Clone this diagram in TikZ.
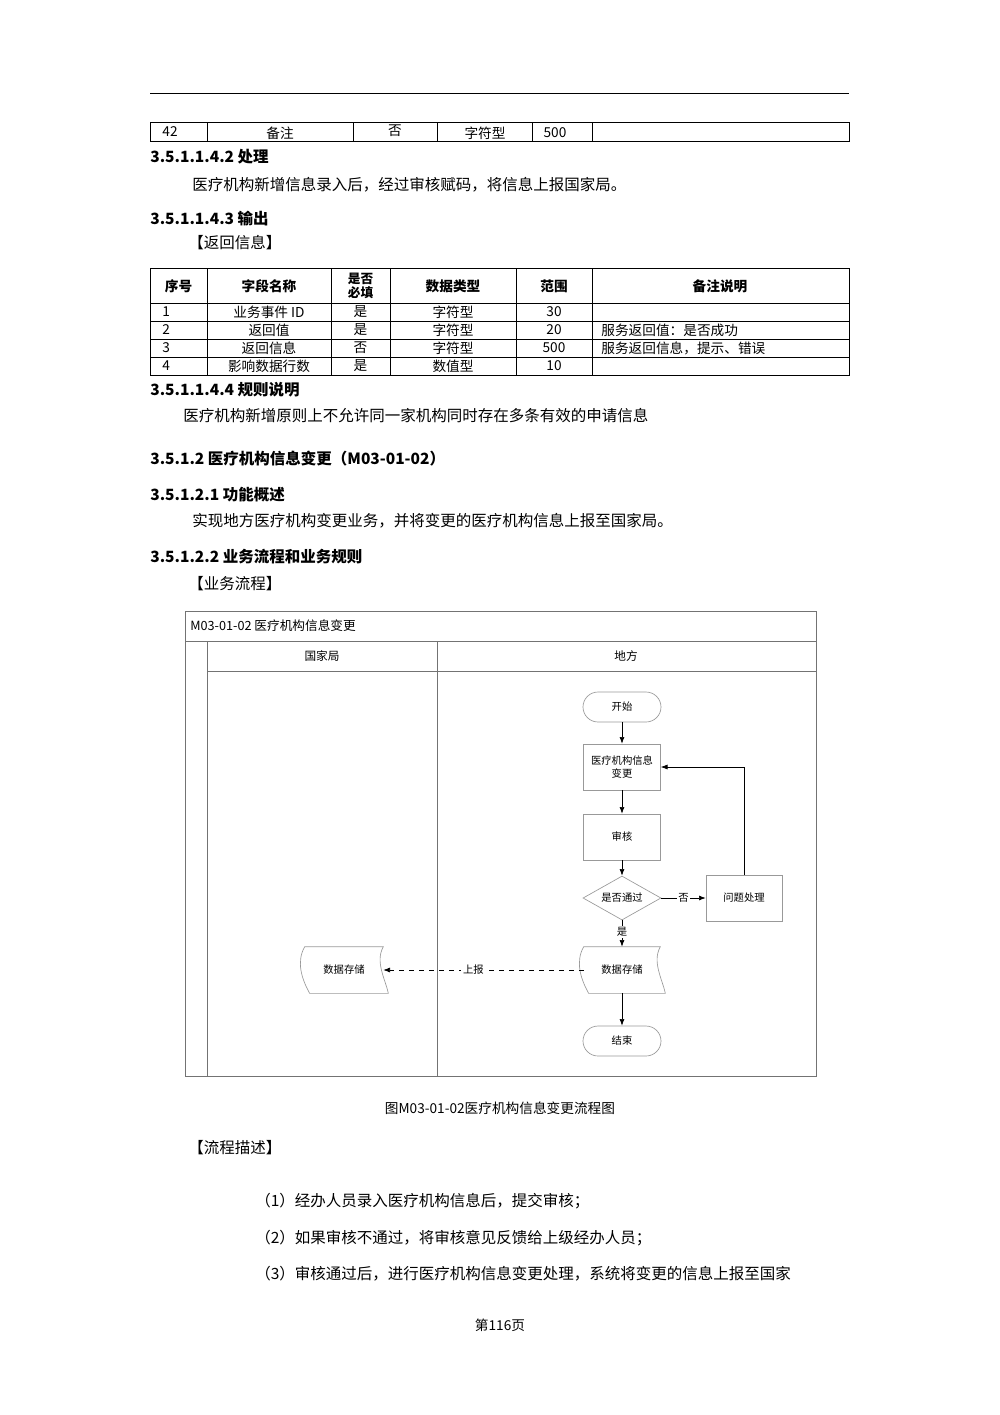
\documentclass[tikz,border=0pt]{standalone}
\usepackage{fontspec}
\setmainfont{Noto Sans CJK SC}
\usetikzlibrary{arrows.meta,shapes.geometric}
\begin{document}
\begin{tikzpicture}[x=0.6pt,y=-0.6pt,
  txt/.style={anchor=west,inner sep=0,font=\fontsize{9.3}{11}\selectfont},
  hd/.style={anchor=west,inner sep=0,font=\fontsize{9.3}{11}\selectfont\bfseries},
  cell/.style={inner sep=0,font=\fontsize{8.2}{9}\selectfont},
  cellb/.style={inner sep=0,font=\fontsize{8.2}{9}\selectfont\bfseries,align=center},
  fc/.style={inner sep=0,font=\fontsize{6.2}{8}\selectfont,align=center},
  box/.style={draw=gray!80,minimum width=46.2pt,minimum height=27.6pt,fc},
  term/.style={draw=gray!80,rounded corners=9pt,minimum width=46.8pt,minimum height=18pt,fc},
  arr/.style={-{Latex[length=4pt,width=3pt]},black},
  thin/.style={line width=0.5pt}]
\useasboundingbox (0,0) rectangle (1000,1415);
\draw[thin] (150,93) -- (849,93);
% top table row
\draw[thin] (150,122) rectangle (849,141);
\foreach \x in {207,353,437,532,592} \draw[thin] (\x,122) -- (\x,141);
\node[cell] (t1) at (170,132) {42};
\node[cell] (t2) at (280,133) {备注};
\node[cell] (t3) at (395,131) {否};
\node[cell] (t4) at (485,133) {字符型};
\node[cell] (t5) at (555,133) {500};
\node[hd] (h1) at (150,157) {3.5.1.1.4.2 处理};
\node[txt] (p1) at (192,185) {医疗机构新增信息录入后，经过审核赋码，将信息上报国家局。};
\node[hd] (h2) at (150,219) {3.5.1.1.4.3 输出};
\node[txt] (p2) at (188,243) {【返回信息】};
% table 2
\draw[thin] (150,268) rectangle (849,375);
\foreach \y in {303,321,339,357} \draw[thin] (150,\y) -- (849,\y);
\foreach \x in {207,331,390,516,592} \draw[thin] (\x,268) -- (\x,375);
\node[cellb] at (178.5,286) {序号};
\node[cellb] at (269,286) {字段名称};
\node[cellb,font=\fontsize{7.6}{8.5}\selectfont\bfseries] at (360.5,286) {是否\\必填};
\node[cellb] at (453,286) {数据类型};
\node[cellb] at (554,286) {范围};
\node[cellb] at (720,286) {备注说明};
\foreach \y/\a/\b/\c/\d/\e/\f in {312/1/业务事件 ID/是/字符型/30/,330/2/返回值/是/字符型/20/服务返回值：是否成功,348/3/返回信息/否/字符型/500/服务返回信息，提示、错误,366/4/影响数据行数/是/数值型/10/}{
  \node[cell,anchor=west] at (162,\y) {\a};
  \node[cell] at (269,\y) {\b};
  \node[cell] at (360.5,\y) {\c};
  \node[cell] at (453,\y) {\d};
  \node[cell] at (554,\y) {\e};
  \node[cell,anchor=west] at (601,\y) {\f};
}
\node[hd] (h3) at (150,390) {3.5.1.1.4.4 规则说明};
\node[txt] (p3) at (183,416) {医疗机构新增原则上不允许同一家机构同时存在多条有效的申请信息};
\node[hd] (h4) at (150,459) {3.5.1.2 医疗机构信息变更（M03-01-02）};
\node[hd] (h5) at (150,495) {3.5.1.2.1 功能概述};
\node[txt] (p4) at (192,521) {实现地方医疗机构变更业务，并将变更的医疗机构信息上报至国家局。};
\node[hd] (h6) at (150,557) {3.5.1.2.2 业务流程和业务规则};
\node[txt] (p5) at (188,584) {【业务流程】};
% flowchart frame
\draw[thin,gray!90!black] (185,611) rectangle (816,1076);
\draw[thin,gray!90!black] (185,641) -- (816,641);
\draw[thin,gray!90!black] (207,671) -- (816,671);
\draw[thin,gray!90!black] (207,641) -- (207,1076);
\draw[thin,gray!90!black] (437,641) -- (437,1076);
\node[fc,anchor=west,font=\fontsize{7.6}{9}\selectfont] (ft) at (190,626) {M03-01-02 医疗机构信息变更};
\node[fc,font=\fontsize{7}{9}\selectfont] (l1) at (322,656) {国家局};
\node[fc,font=\fontsize{7}{9}\selectfont] (l2) at (626,656) {地方};
\node[term] (start) at (622,707) {开始};
\node[box] (chg) at (622,767) {医疗机构信息\\变更};
\node[box] (aud) at (622,837) {审核};
\node[diamond,draw=gray!80,aspect=1.75,minimum width=46.8pt,minimum height=26.4pt,inner sep=0,fc] (dec) at (622,898) {是否通过};
\node[box,minimum width=45.6pt] (prob) at (744,898) {问题处理};
\node[fc,minimum width=45.6pt,minimum height=27.6pt] (st1) at (622,970) {数据存储};
\node[fc,minimum width=46.8pt,minimum height=27.6pt] (st2) at (344,970) {数据存储};
\node[term] (end) at (622,1041) {结束};
\foreach \n in {st1,st2}{
  \draw[gray!80] (\n.north west) .. controls ([xshift=-5pt,yshift=-9pt]\n.north west) and ([xshift=-2pt,yshift=9pt]\n.south west) .. ([xshift=3pt]\n.south west)
   -- ([xshift=3pt]\n.south east) .. controls ([xshift=1pt,yshift=9pt]\n.south east) and ([xshift=-5pt,yshift=-9pt]\n.north east) .. (\n.north east) -- cycle;
}
\draw[arr] (start) -- (chg);
\draw[arr] (chg) -- (aud);
\draw[arr] (aud) -- (dec);
\draw[arr] (dec) -- node[fc,fill=white,inner sep=1pt] {否} (prob);
\draw[arr] (prob.north) |- (chg.east);
\draw[arr] (dec) -- node[fc,fill=white,inner sep=1pt,pos=0.45] {是} (st1);
\draw[arr] (st1) -- (end);
\draw[arr,dashed] (st1.west) -- node[fc,fill=white,inner sep=1pt,pos=0.55] {上报} (st2.east);
\node[txt,anchor=center,font=\fontsize{8.2}{10}\selectfont] (cap) at (500,1108) {图M03-01-02医疗机构信息变更流程图};
\node[txt] (p6) at (188,1148) {【流程描述】};
\node[txt] (p7) at (255,1201) {（1）经办人员录入医疗机构信息后，提交审核；};
\node[txt] (p8) at (255,1238) {（2）如果审核不通过，将审核意见反馈给上级经办人员；};
\node[txt] (p9) at (255,1274) {（3）审核通过后，进行医疗机构信息变更处理，系统将变更的信息上报至国家};
\node[txt,anchor=center,font=\fontsize{8.2}{10}\selectfont] (pg) at (500,1325) {第116页};
\end{tikzpicture}
\end{document}
